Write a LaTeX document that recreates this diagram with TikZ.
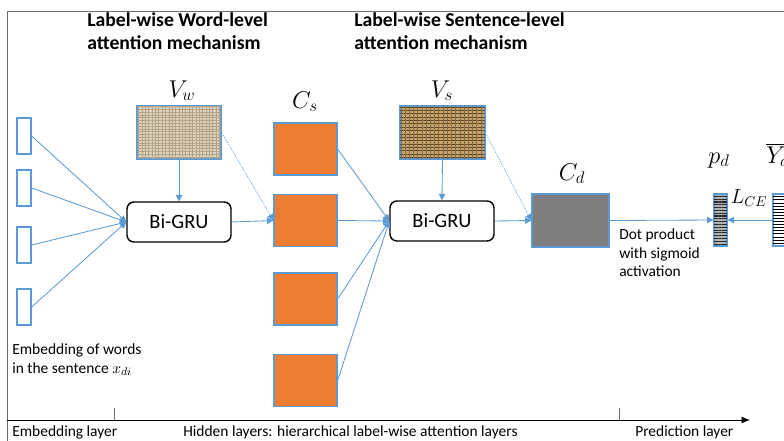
\documentclass[tikz,border=0pt]{standalone}
\usepackage{fontspec}
\setmainfont{Carlito}
\usetikzlibrary{arrows.meta, patterns.meta}
\definecolor{linkblue}{HTML}{5B9BD5}
\definecolor{hidorange}{HTML}{ED7D31}
\definecolor{docgray}{HTML}{7F7F7F}
\definecolor{framegray}{HTML}{6E6E6E}
\definecolor{linen}{HTML}{DDD2BD}
\definecolor{linenthread}{HTML}{B3A489}
\definecolor{burlap}{HTML}{C9A468}
\definecolor{burlapthread}{HTML}{5E4522}

\tikzset{
  link/.style={linkblue, line width=0.6pt, -{Triangle[length=4.5pt,width=4.5pt]}},
  faintlink/.style={link, line width=0.35pt, dash pattern=on 1.2pt off 0.7pt},
  wordvec/.style={draw=linkblue, line width=0.9pt, fill=white, inner sep=0pt,
    minimum width=0.35cm, minimum height=0.9cm},
  sentvec/.style={draw=linkblue, line width=0.9pt, fill=hidorange, inner sep=0pt,
    minimum width=1.575cm, minimum height=1.3cm},
  attnbox/.style={draw=linkblue, line width=0.9pt, inner sep=0pt,
    minimum width=2.1cm, minimum height=1.325cm},
  grubox/.style={draw=black, line width=1pt, rounded corners=5pt, fill=white,
    minimum width=2.6cm, minimum height=1cm, font=\fontsize{14.5}{16}\selectfont},
  probbar/.style={draw=linkblue, line width=0.9pt, inner sep=0pt,
    minimum width=0.325cm, minimum height=1.3cm},
  mathlabel/.style={anchor=base, inner sep=0pt, font=\fontsize{17}{19}\selectfont},
  heading/.style={anchor=north west, inner sep=0pt, align=left,
    font=\fontsize{14}{16.4}\selectfont\bfseries},
  note/.style={anchor=north west, inner sep=0pt, align=left,
    font=\fontsize{11}{13.5}\selectfont},
  layername/.style={anchor=base west, inner sep=0pt, font=\fontsize{11}{13.5}\selectfont},
}

\begin{document}
\begin{tikzpicture}[x=0.025cm, y=-0.025cm]
  \useasboundingbox (0,0) rectangle (784,441);
  \clip (0,0) rectangle (784,441);

  % frame and layer axis
  \draw[framegray, line width=0.6pt] (7,441) -- (7,11) -- (790,11);
  \draw[line width=0.6pt, -{Latex[length=6pt,width=5pt]}, black] (7,420) -- (750,420);
  \draw[framegray, line width=0.6pt] (114,408) -- (114,420);
  \draw[framegray, line width=0.6pt] (619,408) -- (619,420);

  % headings
  \node[heading] (headword) at (87,12) {Label-wise Word-level\\attention mechanism};
  \node[heading] (headsent) at (354,12) {Label-wise Sentence-level\\attention mechanism};

  % word embeddings
  \node[wordvec] (e1) at (24,136) {};
  \node[wordvec] (e2) at (24,188) {};
  \node[wordvec] (e3) at (24,245) {};
  \node[wordvec] (e4) at (24,307) {};
  \node[note] (embtext) at (12,343) {Embedding of words\\in the sentence $x_{di}$};

  % word-level attention
  \node[attnbox, fill=linen] (vw) at (179,132.5) {};
  \fill[pattern={Lines[angle=0, distance=2pt, line width=0.3pt]}, pattern color=linenthread]
    (vw.south west) rectangle (vw.north east);
  \fill[pattern={Lines[angle=90, distance=2.4pt, line width=0.3pt]}, pattern color=linenthread]
    (vw.south west) rectangle (vw.north east);
  \draw[draw=linkblue, line width=0.9pt] (vw.south west) rectangle (vw.north east);
  \node[mathlabel] (vwlabel) at (182,97) {$V_w$};
  \node[grubox] (gru1) at (179,222) {Bi-GRU};

  % sentence vectors
  \node[sentvec] (c1) at (305.5,149) {};
  \node[sentvec] (c2) at (305.5,220.5) {};
  \node[sentvec] (c3) at (305.5,299) {};
  \node[sentvec] (c4) at (305.5,380.5) {};
  \node[mathlabel] (cslabel) at (305,108) {$C_s$};

  % sentence-level attention
  \node[attnbox, fill=burlap] (vs) at (442.5,132.5) {};
  \fill[pattern={Lines[angle=0, distance=2.4pt, line width=0.45pt]}, pattern color=burlapthread]
    (vs.south west) rectangle (vs.north east);
  \fill[pattern={Lines[angle=90, distance=3pt, line width=0.35pt]}, pattern color=burlapthread!80]
    (vs.south west) rectangle (vs.north east);
  \draw[draw=linkblue, line width=0.9pt] (vs.south west) rectangle (vs.north east);
  \node[mathlabel] (vslabel) at (442,97) {$V_s$};
  \node[grubox] (gru2) at (442,221) {Bi-GRU};

  % document vector and prediction
  \node[draw=linkblue, line width=0.9pt, fill=docgray, inner sep=0pt,
    minimum width=1.925cm, minimum height=1.325cm] (cd) at (570.5,220.5) {};
  \node[mathlabel] (cdlabel) at (572,180) {$C_d$};
  \node[note] (dottext) at (619,228) {Dot product\\with sigmoid\\activation};

  \node[probbar, fill=gray!60] (pd) at (720.5,220) {};
  \fill[pattern={Lines[angle=0, distance=2pt, line width=0.8pt]}, pattern color=black!85]
    (pd.south west) rectangle (pd.north east);
  \draw[draw=linkblue, line width=0.9pt] (pd.south west) rectangle (pd.north east);
  \node[mathlabel] (pdlabel) at (719,163) {$p_d$};

  \node[probbar, fill=white] (yd) at (779.5,220) {};
  \fill[pattern={Lines[angle=0, distance=2.2pt, line width=0.4pt]}, pattern color=black]
    (yd.south west) rectangle (yd.north east);
  \draw[draw=linkblue, line width=0.9pt] (yd.south west) rectangle (yd.north east);
  \node[mathlabel, anchor=base west] (ydlabel) at (766,163) {$\overline{Y_d}$};
  \node[mathlabel, font=\fontsize{14}{16}\selectfont] (lcelabel) at (749,203) {$L_{CE}$};

  % connectors
  \foreach \e in {e1,e2,e3,e4}
    \draw[link] (\e.east) -- (gru1.west);
  \draw[link] (vw.south) -- (gru1.north);
  \draw[link] (gru1.east) -- (c2.west);
  \draw[faintlink] (vw.east) -- (c2.west);
  \foreach \c in {c1,c2,c3,c4}
    \draw[link] (\c.east) -- (gru2.west);
  \draw[link] (vs.south) -- (gru2.north);
  \draw[link] (gru2.east) -- (cd.west);
  \draw[faintlink] (vs.east) -- (cd.west);
  \draw[link] (cd.east) -- (pd.west);
  \draw[link] (yd.west) -- (pd.east);

  % layer names
  \node[layername] (embname) at (12,436) {Embedding layer};
  \node[layername] (hidname) at (183,436) {Hidden layers: hierarchical label-wise attention layers};
  \node[layername] (predname) at (635,436) {Prediction layer};
\end{tikzpicture}
\end{document}
